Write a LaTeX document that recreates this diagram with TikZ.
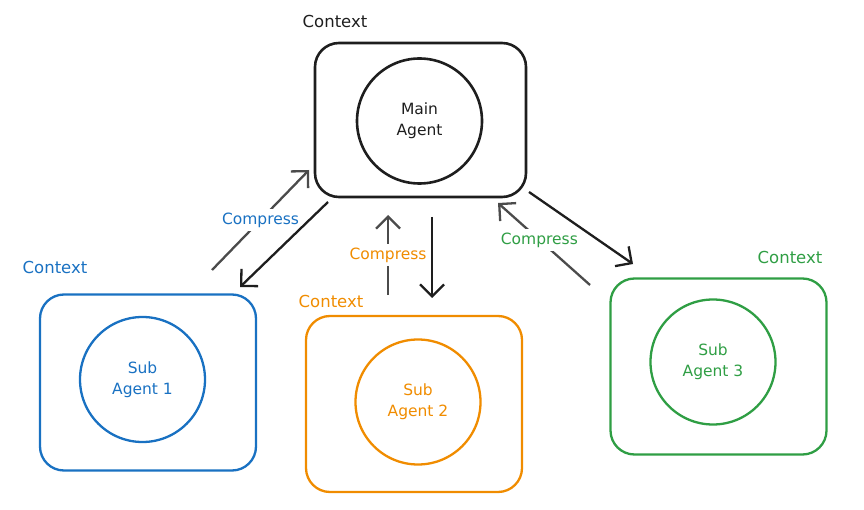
\documentclass[tikz,border=0pt]{standalone}
\usepackage{fontspec}
\setmainfont{DejaVu Sans}
\usepackage{xcolor}
\definecolor{clMain}{HTML}{1E1E1E}
\definecolor{clSubA}{HTML}{1971C2}
\definecolor{clSubB}{HTML}{F08C00}
\definecolor{clSubC}{HTML}{2F9E44}
\usetikzlibrary{arrows.meta,positioning,calc}
\tikzset{
  ctxbox/.style={rectangle, rounded corners=24pt, draw, line width=2.3pt,
                 minimum width=216pt, minimum height=176pt},
  agent/.style={circle, draw, line width=2.3pt, minimum size=125pt, inner sep=0pt,
                align=center, font=\fontsize{15.5}{21}\selectfont},
  ctxlabel/.style={font=\fontsize{16.5}{18}\selectfont, inner sep=0pt},
  flow/.style={-{Straight Barb[length=12pt,width=24pt,line width=2.3pt]}, line width=2.3pt, draw=clMain},
  cflow/.style={flow, draw=clMain!80},
  flowlabel/.style={font=\fontsize{15.5}{18}\selectfont, fill=white, inner sep=4pt},
}
\begin{document}
\begin{tikzpicture}[x=1pt, y=-1pt]
  \useasboundingbox (0,0) rectangle (864,510);
  % main agent
  \node[ctxbox, draw=clMain, minimum width=211pt, minimum height=154pt, line width=2.6pt] (mainbox) at (420.5,120) {};
  \node[agent, draw=clMain, text=clMain, line width=2.6pt] (main) at (419.5,121) {Main\\Agent};
  \node[ctxlabel, text=clMain] (mainctx) at (335,21) {Context};
  % sub agents
  \node[ctxbox, draw=clSubA] (boxA) at (148,382.5) {};
  \node[agent, draw=clSubA, text=clSubA] (subA) at (142.5,379.5) {Sub\\Agent 1};
  \node[ctxlabel, text=clSubA] (ctxA) at (55,267) {Context};
  \node[ctxbox, draw=clSubB] (boxB) at (414,404) {};
  \node[agent, draw=clSubB, text=clSubB] (subB) at (418,402) {Sub\\Agent 2};
  \node[ctxlabel, text=clSubB] (ctxB) at (331,301) {Context};
  \node[ctxbox, draw=clSubC] (boxC) at (718.5,366.5) {};
  \node[agent, draw=clSubC, text=clSubC] (subC) at (713,362) {Sub\\Agent 3};
  \node[ctxlabel, text=clSubC] (ctxC) at (790,257) {Context};
  % arrow ends
  \coordinate (upA0) at (212,270); \coordinate (upA1) at (309,170);
  \coordinate (dnA0) at (328,202); \coordinate (dnA1) at (240,287);
  \coordinate (upB0) at (388,295); \coordinate (upB1) at (388,215);
  \coordinate (dnB0) at (432,217); \coordinate (dnB1) at (432,298);
  \coordinate (upC0) at (590,285); \coordinate (upC1) at (498,203);
  \coordinate (dnC0) at (529,192); \coordinate (dnC1) at (633,264);
  \draw[cflow] (upA0) -- node[flowlabel, text=clSubA, pos=0.5]{Compress} (upA1);
  \draw[flow] (dnA0) -- (dnA1);
  \draw[cflow] (upB0) -- node[flowlabel, text=clSubB, pos=0.5]{Compress} (upB1);
  \draw[flow] (dnB0) -- (dnB1);
  \draw[cflow] (upC0) -- node[flowlabel, text=clSubC, pos=0.55]{Compress} (upC1);
  \draw[flow] (dnC0) -- (dnC1);
\end{tikzpicture}
\end{document}
